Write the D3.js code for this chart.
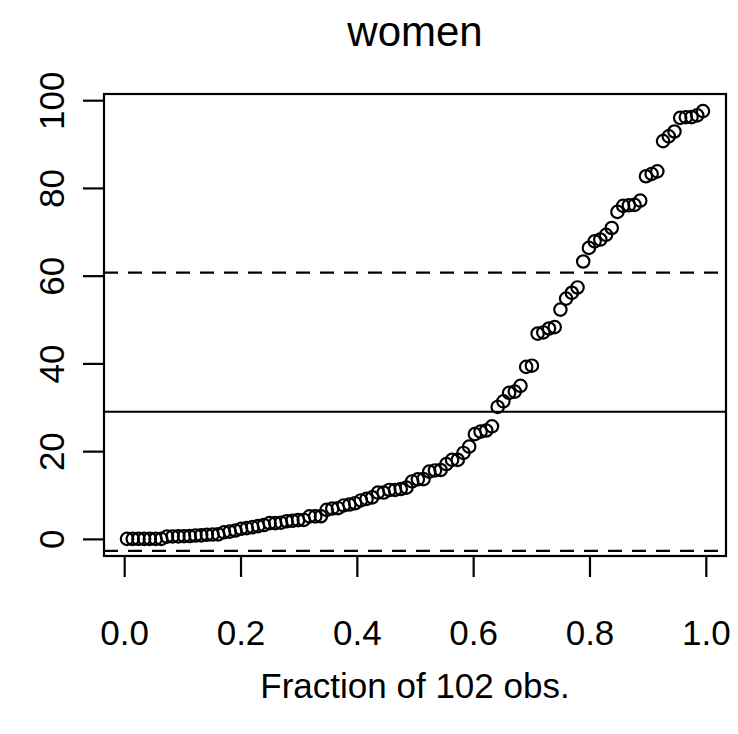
<!DOCTYPE html>
<html>
<head>
<meta charset="utf-8">
<script src="https://cdn.jsdelivr.net/npm/d3@7"></script>
<style>
  body { margin: 0; background: #fff; }
  svg { display: block; font-family: "Liberation Sans", Arial, Helvetica, sans-serif; }
</style>
</head>
<body>
<script>
// sorted percentage of women, 102 occupations
const women = [
  0, 0, 0, 0, 0, 0, 0, 0.52, 0.56, 0.58,
  0.61, 0.65, 0.78, 0.81, 0.94, 0.99, 1.03, 1.50, 1.65, 1.91,
  2.30, 2.46, 2.69, 2.92, 3.16, 3.59, 3.60, 3.69, 4.02, 4.14,
  4.28, 4.32, 5.13, 5.13, 5.16, 6.61, 6.91, 7.00, 7.62, 7.83,
  8.13, 8.76, 9.11, 9.47, 10.56, 10.56, 11.15, 11.16, 11.37, 11.68,
  13.09, 13.58, 13.62, 15.33, 15.60, 15.70, 17.04, 18.00, 18.00, 19.59,
  21.03, 23.88, 24.44, 24.71, 25.65, 30.08, 31.36, 33.30, 33.57, 34.89,
  39.20, 39.48, 46.80, 47.06, 47.96, 48.28, 52.27, 54.77, 56.10, 57.31,
  63.23, 66.33, 67.82, 68.24, 69.31, 70.87, 74.54, 75.92, 76.04, 76.14,
  77.10, 82.66, 83.19, 83.78, 90.67, 91.76, 92.86, 95.97, 96.12, 96.14,
  96.53, 97.51
];
// reference lines: mean - sd, mean, mean + sd
const refLines = [
  { value: -2.74, dashed: true },
  { value: 28.98, dashed: false },
  { value: 60.70, dashed: true }
];
const xTicks = [0, 0.2, 0.4, 0.6, 0.8, 1.0];
const yTicks = [0, 20, 40, 60, 80, 100];
const title = "women";
const xLabel = "Fraction of " + women.length + " obs.";

const width = 738, height = 734;
const box = { left: 104, right: 726, top: 94, bottom: 556 };

const n = women.length;
const pts = women.map((v, i) => ({ f: (i + 0.5) / n, v: v }));

// R style 4% padding
function pad(ext) {
  const r = ext[1] - ext[0];
  return [ext[0] - 0.04 * r, ext[1] + 0.04 * r];
}
const x = d3.scaleLinear().domain(pad(d3.extent(pts, d => d.f))).range([box.left, box.right]);
const y = d3.scaleLinear().domain(pad(d3.extent(pts, d => d.v))).range([box.bottom, box.top]);

const svg = d3.select("body").append("svg").attr("width", width).attr("height", height);

// reference lines
svg.append("g").selectAll("line").data(refLines).join("line")
  .attr("x1", box.left).attr("x2", box.right)
  .attr("y1", d => y(d.value)).attr("y2", d => y(d.value))
  .attr("stroke", "#000").attr("stroke-width", 2.2)
  .attr("stroke-dasharray", d => d.dashed ? "14,10" : null);

// points
svg.append("g").selectAll("circle").data(pts).join("circle")
  .attr("cx", d => x(d.f)).attr("cy", d => y(d.v))
  .attr("r", 6.2)
  .attr("fill", "none").attr("stroke", "#000").attr("stroke-width", 2.2);

// box
svg.append("rect")
  .attr("x", box.left).attr("y", box.top)
  .attr("width", box.right - box.left).attr("height", box.bottom - box.top)
  .attr("fill", "none").attr("stroke", "#000").attr("stroke-width", 2.2);

// axes
const gx = svg.append("g").attr("transform", `translate(0,${box.bottom})`)
  .call(d3.axisBottom(x).tickValues(xTicks).tickFormat(d3.format(".1f")).tickSize(21).tickSizeOuter(0));
gx.select(".domain").remove();
gx.selectAll(".tick line").attr("stroke-width", 2.2);
gx.selectAll(".tick text").attr("font-size", 35).attr("fill", "#000")
  .attr("font-family", null).attr("dy", null).attr("y", 89);

const gy = svg.append("g").attr("transform", `translate(${box.left},0)`)
  .call(d3.axisLeft(y).tickValues(yTicks).tickSize(21).tickSizeOuter(0));
gy.select(".domain").remove();
gy.selectAll(".tick line").attr("stroke-width", 2.2);
gy.selectAll(".tick text").attr("font-size", 35).attr("fill", "#000")
  .attr("font-family", null).attr("dy", null).attr("x", null)
  .attr("text-anchor", "middle")
  .attr("transform", "translate(-40,0) rotate(-90)");

svg.append("text").attr("x", (box.left + box.right) / 2).attr("y", 46)
  .attr("text-anchor", "middle").attr("font-size", 42).text(title);

svg.append("text").attr("x", (box.left + box.right) / 2).attr("y", 698)
  .attr("text-anchor", "middle").attr("font-size", 35).text(xLabel);
</script>
</body>
</html>
